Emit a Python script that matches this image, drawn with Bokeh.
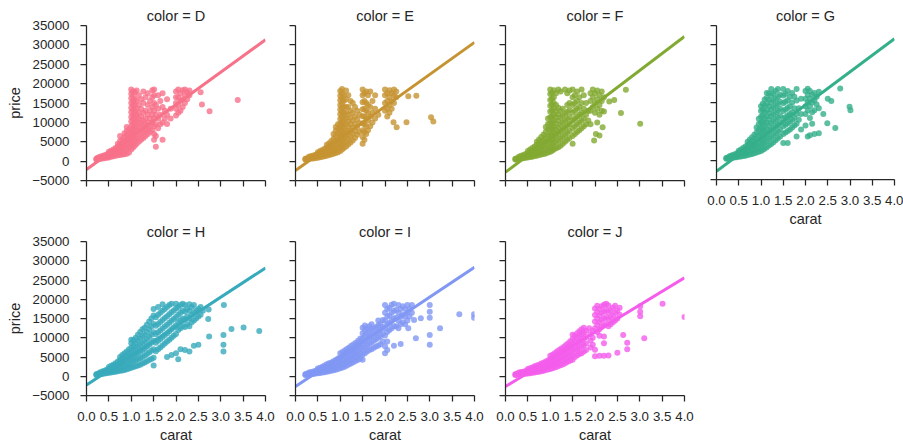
from bokeh.plotting import figure
from bokeh.layouts import row, column
from bokeh.models import Range1d, FixedTicker
from bokeh.embed import file_html
from bokeh.resources import INLINE

# ---------------- data ----------------
facets = ["D", "E", "F", "G", "H", "I", "J"]
facet_colors = ["#f77189", "#c69332", "#82a931", "#34af8a", "#37aabb", "#8197f4", "#f45deb"]

x_ticks = [0.0, 0.5, 1.0, 1.5, 2.0, 2.5, 3.0, 3.5, 4.0]
x_tick_labels = ["0.0", "0.5", "1.0", "1.5", "2.0", "2.5", "3.0", "3.5", "4.0"]
y_ticks = [-5000, 0, 5000, 10000, 15000, 20000, 25000, 30000, 35000]
y_tick_labels = ["\u22125000", "0", "5000", "10000", "15000", "20000", "25000", "30000", "35000"]
x_limits = [0.0, 4.0]
y_limits = [-5000, 35000]

# regression fit (price at carat 0, slope per carat)
fit_intercept = [-2160, -2420, -2850, -2850, -2240, -2680, -2680]
fit_slope = [8365, 8268, 8753, 8605, 7593, 7743, 7058]

# points, grouped by carat: (carat, [prices at that carat])
cols_D = [
    (0.22, [400, 600]), (0.25, [450, 650, 900]), (0.3, [550, 800, 1100]), (0.35, [650, 950, 1300]),
    (0.4, [750, 1100, 1500]), (0.45, [850, 1250, 1700]), (0.5, [950, 1400, 1950, 2400]),
    (0.55, [1100, 1600, 2200, 2700]), (0.6, [1250, 1800, 2400, 3000]), (0.65, [1400, 2000, 2700, 3400]),
    (0.7, [1500, 2300, 3000, 3800, 4500]), (0.75, [1600, 2500, 3300, 4200, 5200, 6500]),
    (0.8, [1700, 2800, 3700, 4600, 5600]), (0.85, [1800, 3000, 4000, 5000, 6200, 7200]),
    (0.9, [1900, 3200, 4300, 5400, 6600, 7800, 8800]), (0.95, [2200, 3600, 4700, 5900, 7100, 8300]),
    (1.0, [3000, 4200, 5400, 6600, 7800, 9000, 10200, 11400, 12600, 13800, 15000, 16200, 17400, 18500]),
    (1.04, [3500, 4800, 6000, 7200, 8400, 9600, 10800, 12000, 13200, 14400, 15600, 16800, 18000]),
    (1.08, [4000, 5500, 7000, 8500, 10000, 11500, 13000, 14500, 16000, 17800]),
    (1.12, [4500, 6000, 7500, 9000, 10500, 12000, 13500, 15500, 18200]),
    (1.17, [5000, 6500, 8000, 9500, 11000, 12500, 14500, 17000]),
    (1.22, [5500, 7000, 8500, 10000, 11500, 13500, 16000]),
    (1.27, [6000, 7500, 9000, 10500, 12500, 15000, 18000]),
    (1.32, [6500, 8000, 9500, 11000, 13000, 16500]),
    (1.37, [7000, 8500, 10000, 12000, 14500, 17500]),
    (1.42, [7500, 9000, 11000, 13000, 15500]),
    (1.47, [8000, 10000, 12000, 14000, 16500, 18300]),
    (1.51, [5500, 7000, 9000, 11000, 13000, 15000, 17000, 18500]),
    (1.55, [3700, 6500, 9500, 12000, 14500]), (1.6, [8500, 11000, 13500, 17000]),
    (1.65, [9500, 12000, 15500]), (1.7, [5500, 10000, 14000, 17500]), (1.75, [11000, 13000]),
    (1.8, [9600, 12000, 16000]), (1.88, [11000, 13500]),
    (2.0, [11800, 13500, 15000, 16500, 18000]), (2.05, [12500, 14500, 16500, 18500]),
    (2.1, [13000, 15500, 17500]), (2.15, [14000, 16000, 18300]), (2.2, [15000, 17000, 18500]),
    (2.25, [16000, 17800]), (2.3, [17000, 18200]),
    (2.55, [17800]), (2.58, [14600]), (2.75, [12900]), (3.38, [15800]),
]

cols_E = [
    (0.22, [400, 600]), (0.25, [450, 700]), (0.3, [550, 800, 1100]), (0.35, [650, 950, 1300]),
    (0.4, [700, 1050, 1450]), (0.45, [800, 1200, 1650]), (0.5, [900, 1350, 1850, 2300]),
    (0.55, [1000, 1500, 2050, 2600]), (0.6, [1150, 1700, 2300, 2900]), (0.65, [1250, 1850, 2500, 3200]),
    (0.7, [1400, 2000, 2700, 3500, 4200]), (0.75, [1550, 2200, 3000, 3800, 4600]),
    (0.8, [1700, 2450, 3300, 4200, 5200]), (0.85, [1900, 2700, 3600, 4600, 5800, 7000]),
    (0.9, [2100, 3000, 4000, 5100, 6400, 7800, 8800]), (0.95, [2300, 3300, 4400, 5600, 7000, 8300, 9500]),
    (1.0, [2600, 3700, 4900, 6100, 7300, 8500, 9700, 10900, 12100, 13300, 14500, 15700, 16900, 18100]),
    (1.04, [3000, 4200, 5400, 6600, 7800, 9000, 10200, 11400, 12600, 13800, 15000, 16200, 17400, 18600]),
    (1.08, [3400, 4700, 6000, 7300, 8600, 9900, 11200, 12500, 14000, 15500, 17000]),
    (1.13, [3800, 5200, 6600, 8000, 9500, 11000, 12500, 14000, 16000, 18200]),
    (1.18, [4300, 5800, 7300, 8800, 10300, 12000, 14000, 17000]),
    (1.23, [4800, 6400, 8000, 9600, 11200, 13000, 15500]),
    (1.28, [5300, 7000, 8700, 10500, 12500, 15000]),
    (1.33, [6000, 7800, 9600, 11500, 14000]), (1.38, [6800, 8800, 10800, 13000]),
    (1.43, [7500, 9800, 12000]),
    (1.5, [4500, 6200, 8000, 9800, 11600, 13400, 15200, 17000, 18500]),
    (1.54, [5500, 7500, 9500, 11500, 13500, 15500, 17500]),
    (1.58, [7000, 9000, 11000, 13000, 15000, 18000]), (1.62, [8000, 10500, 12500, 14500, 17000]),
    (1.67, [9000, 11500, 14000, 18000]), (1.72, [10000, 12500, 15500]), (1.78, [11000, 13500, 17000]),
    (1.85, [12000]),
    (2.0, [13000, 15000, 17000, 18500]), (2.05, [11500, 13500, 15500, 17500]),
    (2.1, [12500, 14500, 16500, 18300]), (2.15, [13500, 15500, 17500]), (2.2, [15000, 17000, 18500]),
    (2.25, [16500, 18000]),
    (2.19, [10050]), (2.26, [8760]), (2.48, [10050]), (2.52, [16750]), (2.7, [16900]), (3.03, [11300]),
    (3.08, [10200]),
]

cols_F = [
    (0.22, [400, 600]), (0.25, [450, 700]), (0.3, [550, 850, 1150]), (0.35, [650, 1000, 1400]),
    (0.4, [750, 1150, 1600]), (0.45, [850, 1300, 1850]), (0.5, [950, 1450, 2050, 2600]),
    (0.55, [1050, 1650, 2300, 3000]), (0.6, [1150, 1850, 2600, 3400]), (0.65, [1300, 2050, 2900, 3800]),
    (0.7, [1400, 2250, 3200, 4200, 5000]), (0.75, [1550, 2450, 3500, 4600, 5600]),
    (0.8, [1700, 2700, 3800, 5000, 6200]), (0.85, [1850, 2950, 4200, 5500, 6900]),
    (0.9, [2000, 3200, 4600, 6000, 7500, 8800]), (0.95, [2200, 3500, 5000, 6600, 8200, 9600, 11000]),
    (1.0, [2400, 3800, 5300, 6800, 8300, 9800, 11300, 12800, 14300, 15800, 17300, 18500]),
    (1.04, [2700, 4100, 5600, 7100, 8600, 10100, 11600, 13100, 14600, 16100, 17600]),
    (1.08, [3000, 4500, 6000, 7500, 9000, 10500, 12000, 13500, 15000, 16500, 18300]),
    (1.13, [3300, 4900, 6500, 8100, 9700, 11300, 12900, 14500, 17500]),
    (1.18, [3600, 5300, 7000, 8700, 10400, 12100, 13800, 18500]),
    (1.23, [4000, 5800, 7600, 9400, 11200, 13000, 18000]),
    (1.28, [4500, 6300, 8100, 9900, 11700, 13500]),
    (1.33, [5000, 6800, 8600, 10400, 12200, 18500]),
    (1.38, [5500, 7300, 9100, 10900, 12700, 14500, 17500]),
    (1.43, [6000, 7800, 9600, 11400, 13200, 15000, 18200]),
    (1.5, [4500, 6500, 8500, 10500, 12500, 14500, 16500, 18500]),
    (1.55, [7000, 9000, 11000, 13000, 15000, 17000]), (1.6, [7500, 9500, 11500, 13500, 15500, 18000]),
    (1.65, [8000, 10000, 12000, 14000, 16500]), (1.7, [8500, 10500, 12500, 15000, 18500]),
    (1.75, [9000, 11000, 13500, 17000]), (1.8, [9500, 12000, 15000]), (1.85, [10500, 13000]),
    (1.9, [9500, 13000, 15500, 17500]), (1.95, [14000, 16500, 18500]), (2.0, [12500, 15000, 17500]),
    (2.05, [10000, 13500, 16000, 18200]), (2.1, [6600, 12000, 14500, 17000]),
    (2.15, [13000, 15500, 18000]), (2.2, [12800, 16500]),
    (1.98, [5320]), (2.02, [7030]), (2.17, [8770]),
    (2.32, [15400]), (2.43, [15800]), (2.58, [12400]), (2.69, [18400]), (3.01, [9630]),
]

cols_G = [
    (0.22, [400, 600]), (0.25, [450, 700]), (0.3, [550, 800, 1100]), (0.35, [650, 950, 1300]),
    (0.4, [700, 1100, 1500]), (0.45, [800, 1250, 1750]), (0.5, [900, 1400, 2000, 2500]),
    (0.55, [1000, 1600, 2200, 2800]), (0.6, [1100, 1800, 2500, 3200]), (0.65, [1200, 2000, 2800, 3600]),
    (0.7, [1350, 2200, 3100, 4000, 4800]), (0.75, [1500, 2400, 3400, 4400, 5400]),
    (0.8, [1650, 2650, 3700, 4800, 6000]), (0.85, [1800, 2900, 4100, 5300, 6600]),
    (0.9, [2000, 3200, 4500, 5800, 7200, 8500]), (0.95, [2200, 3500, 4900, 6400, 7900, 9400, 10800]),
    (1.0, [2400, 3800, 5300, 6800, 8300, 9800, 11300, 12800, 14000]),
    (1.04, [2700, 4200, 5700, 7200, 8700, 10200, 11700, 13200, 14700]),
    (1.08, [3000, 4600, 6200, 7800, 9400, 11000, 12600, 14200, 15800]),
    (1.13, [3400, 5000, 6600, 8200, 9800, 11400, 13000, 14600, 16200, 17500]),
    (1.18, [3800, 5500, 7200, 8900, 10600, 12300, 14000, 15700, 17400]),
    (1.23, [4200, 6000, 7800, 9600, 11400, 13200, 15000, 16800, 18500]),
    (1.28, [4700, 6500, 8300, 10100, 11900, 13700, 15500, 17300]),
    (1.33, [5200, 7000, 8800, 10600, 12400, 14200, 16000, 18000]),
    (1.38, [5700, 7500, 9300, 11100, 12900, 14700, 16500, 18500]),
    (1.43, [6200, 8000, 9800, 11600, 13400, 15200, 17000]),
    (1.5, [4500, 6800, 8800, 10800, 12800, 14800, 16800, 18500]),
    (1.55, [7200, 9200, 11200, 13200, 15200, 17200]),
    (1.6, [4470, 7600, 9600, 11600, 13600, 15600, 18000]),
    (1.65, [8000, 10000, 12000, 14000, 16500]), (1.7, [8500, 10500, 12500, 15000, 17500]),
    (1.75, [9000, 11000, 13500, 16500]), (1.8, [6200, 9500, 12000, 15500, 18500]),
    (1.85, [10500, 13500]), (1.9, [8000, 12000, 16000]),
    (2.0, [9000, 12000, 14000, 16000, 18000]), (2.05, [6160, 13000, 15000, 17000, 18600]),
    (2.1, [6500, 11000, 14000, 16000, 18000]), (2.15, [9500, 12500, 15000, 17000]),
    (2.2, [6800, 13000, 15500, 17500]), (2.25, [14500, 16500]), (2.3, [7000, 13500, 17800]),
    (2.4, [12000]), (2.49, [9630]), (2.5, [16000]), (2.58, [15400]), (2.67, [8370]), (2.78, [18660]),
    (2.99, [13900]), (3.01, [13000]),
]

cols_H = [
    (0.22, [350, 550]), (0.25, [400, 650]), (0.3, [500, 750, 1000]), (0.35, [600, 900, 1250]),
    (0.4, [700, 1050, 1450]), (0.45, [800, 1200, 1700]), (0.5, [900, 1350, 1900, 2400]),
    (0.55, [1000, 1500, 2100, 2700]), (0.6, [1100, 1700, 2400, 3000]), (0.65, [1200, 1900, 2700, 3400]),
    (0.7, [1300, 2100, 3000, 3800]), (0.75, [1400, 2300, 3300, 4200, 5000]),
    (0.8, [1500, 2500, 3600, 4600, 5500]), (0.85, [1600, 2700, 3900, 5000, 6000]),
    (0.9, [1800, 2900, 4200, 5400, 6400]), (0.95, [2000, 3200, 4500, 5800, 7000]),
    (1.0, [2200, 3500, 4800, 6100, 7400, 8600, 9500]), (1.05, [2400, 3800, 5200, 6600, 8000, 9400]),
    (1.1, [2600, 4100, 5600, 7100, 8600, 10000]), (1.15, [2800, 4400, 6000, 7600, 9200, 10800]),
    (1.2, [3000, 4700, 6400, 8100, 9800, 11500]), (1.25, [3300, 5000, 6800, 8600, 10400, 12200]),
    (1.3, [3600, 5400, 7200, 9000, 10800, 12600]), (1.35, [3900, 5800, 7700, 9600, 11500, 13400]),
    (1.4, [4200, 6200, 8200, 10200, 12200, 14200]), (1.45, [4500, 6600, 8700, 10800, 12900, 15000]),
    (1.5, [2800, 4800, 7000, 9200, 11400, 13600, 15800, 17500]),
    (1.55, [6500, 8700, 10900, 13100, 15300]), (1.6, [7000, 9200, 11400, 13600, 16000, 18000]),
    (1.65, [7500, 9700, 11900, 14100, 16500]), (1.7, [8000, 10200, 12400, 14600, 17000, 18700]),
    (1.75, [8500, 10700, 12900, 15100, 17500]), (1.8, [5000, 9000, 11200, 13400, 15600, 18000]),
    (1.85, [9500, 11700, 13900, 16100, 18500]), (1.9, [5500, 10000, 12200, 14400, 16600, 18800]),
    (1.95, [10500, 12700, 14900, 17100]), (2.0, [6000, 11000, 13200, 15400, 17600, 18800]),
    (2.05, [4400, 12000, 14000, 16000, 18000]), (2.1, [7000, 12500, 14500, 16500, 18500]),
    (2.15, [13000, 15000, 17000, 18800]), (2.2, [6800, 12800, 14800, 16800, 18500]),
    (2.25, [13500, 15500, 17500]), (2.3, [6400, 13000, 15000, 17000, 18700]),
    (2.35, [14000, 16000, 18000]), (2.4, [7950, 14500, 16500, 18500]), (2.45, [15000, 17000]),
    (2.5, [8200, 15500, 17500]), (2.55, [16000, 18000]), (2.6, [17000]),
    (2.72, [14900]), (2.73, [17370]), (2.74, [10300]), (3.07, [18480]), (3.06, [6430, 8160, 10740]),
    (3.24, [12290]), (3.51, [12630]), (3.86, [11770]),
]

cols_I = [
    (0.22, [350, 550]), (0.25, [400, 650]), (0.3, [450, 700, 950]), (0.35, [550, 800, 1100]),
    (0.4, [600, 900, 1250]), (0.45, [700, 1000, 1400]), (0.5, [750, 1150, 1600, 2000]),
    (0.55, [850, 1300, 1800, 2200]), (0.6, [950, 1450, 2000, 2500]), (0.65, [1050, 1600, 2200, 2800]),
    (0.7, [1150, 1750, 2400, 3100]), (0.75, [1300, 1900, 2600, 3400]), (0.8, [1400, 2100, 2800, 3600]),
    (0.85, [1550, 2300, 3000, 3900]), (0.9, [1700, 2500, 3300, 4200]), (0.95, [1900, 2700, 3600, 4600]),
    (1.0, [2100, 3000, 3900, 4900, 6000]), (1.05, [2300, 3200, 4200, 5200, 6300]),
    (1.1, [2500, 3500, 4500, 5600, 6700]), (1.15, [2800, 3800, 4900, 6000, 7100]),
    (1.2, [3100, 4100, 5200, 6300, 7500]), (1.25, [3400, 4400, 5500, 6700, 7900]),
    (1.3, [3700, 4800, 5900, 7100, 8300]), (1.35, [4000, 5100, 6300, 7500, 8700]),
    (1.4, [4300, 5500, 6700, 8000, 9200]), (1.45, [4600, 5900, 7200, 8500, 9800]),
    (1.5, [4300, 5600, 7000, 8400, 9800, 11200, 12600]), (1.55, [6000, 7500, 9000, 10500, 12000, 13200]),
    (1.6, [6400, 8000, 9500, 11000, 12500]), (1.65, [6800, 8400, 10000, 11500, 13000]),
    (1.7, [7000, 8800, 10400, 12000, 13500]), (1.75, [7400, 9200, 10800, 12400]),
    (1.8, [7700, 9600, 11200, 12800]), (1.85, [8000, 10000, 11600, 13200, 14500]),
    (1.9, [8300, 10400, 12000, 13600]), (1.95, [9000, 11000, 12800, 14600]),
    (2.0, [6000, 7800, 10600, 12500, 14500, 16500, 18500]), (2.05, [6800, 9000, 11500, 13500, 15500, 17500]),
    (2.1, [12000, 13800, 15800, 17800]), (2.15, [12500, 14500, 16500, 18600]),
    (2.2, [7900, 13000, 15000, 17000, 18800]), (2.25, [13000, 15200, 17200]),
    (2.3, [12500, 14500, 16500, 18500]), (2.35, [8400, 13500, 15500, 17500]),
    (2.4, [14000, 16000, 18200]), (2.45, [13500, 15500, 17500]), (2.5, [14500, 16500, 18500]),
    (2.55, [15500, 17500]), (2.6, [16500, 18500]),
    (2.52, [12500]), (2.65, [14600]), (2.69, [9900]), (2.8, [15050]),
    (3.0, [8160, 10700, 15200, 16750, 18480]), (3.23, [12470]), (3.66, [16080]), (3.99, [15200, 16080]),
]

cols_J = [
    (0.22, [350, 550]), (0.25, [400, 650]), (0.3, [450, 700, 950]), (0.35, [550, 800, 1100]),
    (0.4, [600, 900, 1200]), (0.45, [650, 1000, 1350]), (0.5, [700, 1100, 1500, 1900]),
    (0.55, [800, 1200, 1700, 2100]), (0.6, [900, 1350, 1850, 2300]), (0.65, [1000, 1500, 2000, 2600]),
    (0.7, [1100, 1650, 2200, 2800]), (0.75, [1200, 1800, 2400, 3000]), (0.8, [1300, 1950, 2600, 3300]),
    (0.85, [1450, 2100, 2800, 3500]), (0.9, [1600, 2300, 3000, 3800]), (0.95, [1750, 2500, 3300, 4100]),
    (1.0, [1900, 2700, 3600, 4500, 5300]), (1.05, [2100, 2900, 3800, 4800, 5600]),
    (1.1, [2300, 3200, 4100, 5100, 6000]), (1.15, [2500, 3400, 4400, 5400, 6400]),
    (1.2, [2700, 3700, 4700, 5800, 6800]), (1.25, [2900, 4000, 5100, 6200, 7200]),
    (1.3, [3200, 4300, 5400, 6500, 7600]), (1.35, [3500, 4600, 5800, 7000, 8100]),
    (1.4, [3800, 5000, 6200, 7400, 8600]), (1.45, [4100, 5300, 6600, 7900, 9100]),
    (1.5, [4300, 5600, 7000, 8400, 9700, 10800]), (1.55, [5000, 6400, 7800, 9200, 10500]),
    (1.6, [5400, 6900, 8400, 9900, 11200]), (1.65, [5800, 7300, 8900, 10400, 11700]),
    (1.7, [6000, 7700, 9300, 10900, 12200]), (1.75, [6400, 8100, 9800, 11300, 12600]),
    (1.8, [6800, 8500, 10200, 11800]), (1.87, [12470]), (1.9, [7500, 9300, 11000]),
    (1.95, [8200, 10000, 11800]),
    (2.0, [5170, 6900, 12500, 14200, 15900, 17600]), (2.05, [11500, 13300, 15000, 16700, 18300]),
    (2.1, [5300, 10500, 12200, 14000, 15800, 17500]), (2.15, [12800, 14600, 16400, 18200]),
    (2.2, [5300, 8600, 10300, 13200, 15000, 16800, 18600]), (2.25, [13600, 15400, 17200, 18800]),
    (2.3, [5400, 13000, 14800, 16600, 18400]), (2.35, [13500, 15300, 17100]),
    (2.4, [14000, 15800, 17800]), (2.45, [14500, 16500, 18300]), (2.5, [6100, 15000, 17000]),
    (2.55, [16000, 17800]),
    (2.63, [10700]), (2.72, [7000, 8700]), (3.01, [15600, 16750, 18200]), (3.1, [9870]), (3.51, [18800]),
    (4.0, [15400]),
]

facet_columns = [cols_D, cols_E, cols_F, cols_G, cols_H, cols_I, cols_J]

# ---------------- styling ----------------
TEXT = "#262626"
FONT = "Liberation Sans"
FRAME_H = 155
LEFT = [86, 18, 19, 20]
RIGHT = [12, 12, 12, 9]
FRAME_W = [179, 179, 179, 178]


def style_axis(ax):
    ax.axis_line_color = TEXT
    ax.axis_line_width = 1.25
    ax.major_tick_line_color = TEXT
    ax.major_tick_line_width = 1.25
    ax.major_tick_in = 0
    ax.major_tick_out = 6
    ax.minor_tick_line_color = None
    ax.major_label_text_font = FONT
    ax.major_label_text_font_size = "13.3px"
    ax.major_label_text_color = TEXT
    ax.axis_label_text_font = FONT
    ax.axis_label_text_font_size = "14.5px"
    ax.axis_label_text_font_style = "normal"
    ax.axis_label_text_color = TEXT


def make_panel(i, col, top_row, show_x, show_y):
    left, right, fw = LEFT[col], RIGHT[col], FRAME_W[col]
    top = 25 if top_row else 22
    bottom = 49 if show_x else 39
    p = figure(
        width=left + fw + right,
        height=top + FRAME_H + bottom,
        x_range=Range1d(*x_limits),
        y_range=Range1d(*y_limits),
        toolbar_location=None,
        output_backend="svg",
        title="color = " + facets[i],
        min_border_left=left,
        min_border_right=right,
        min_border_top=top,
        min_border_bottom=bottom,
    )
    p.outline_line_color = None
    p.grid.visible = False
    p.background_fill_color = "white"
    p.border_fill_color = "white"

    p.title.text_font = FONT
    p.title.text_font_size = "14.5px"
    p.title.text_font_style = "normal"
    p.title.text_color = TEXT
    p.title.align = "center"
    p.title.standoff = 4

    xa, ya = p.xaxis[0], p.yaxis[0]
    style_axis(xa)
    style_axis(ya)
    xa.ticker = FixedTicker(ticks=x_ticks)
    ya.ticker = FixedTicker(ticks=y_ticks)
    if show_x:
        xa.major_label_overrides = {t: s for t, s in zip(x_ticks, x_tick_labels)}
        xa.major_label_standoff = 10
        xa.axis_label = "carat"
        xa.axis_label_standoff = 3
    else:
        xa.major_label_overrides = {t: "" for t in x_ticks}
        xa.major_label_standoff = 0
    if show_y:
        ya.major_label_overrides = {t: s for t, s in zip(y_ticks, y_tick_labels)}
        ya.major_label_standoff = 11
        ya.axis_label = "price"
        ya.axis_label_standoff = 6
    else:
        ya.major_label_overrides = {t: "" for t in y_ticks}
        ya.major_label_standoff = 0

    carat, price = [], []
    for c, prices in facet_columns[i]:
        for v in prices:
            carat.append(c)
            price.append(v)
    color = facet_colors[i]
    p.scatter(carat, price, size=6, fill_color=color, fill_alpha=0.8, line_color=None)

    fit_y = [fit_intercept[i] + fit_slope[i] * x for x in x_limits]
    p.line(x_limits, fit_y, line_color=color, line_width=3)
    return p


pD = make_panel(0, 0, True, False, True)
pE = make_panel(1, 1, True, False, False)
pF = make_panel(2, 2, True, False, False)
pG = make_panel(3, 3, True, True, False)
pH = make_panel(4, 0, False, True, True)
pI = make_panel(5, 1, False, True, False)
pJ = make_panel(6, 2, False, True, False)

layout = row(column(pD, pH), column(pE, pI), column(pF, pJ), column(pG))

open("out.html", "w").write(file_html(layout, INLINE))
